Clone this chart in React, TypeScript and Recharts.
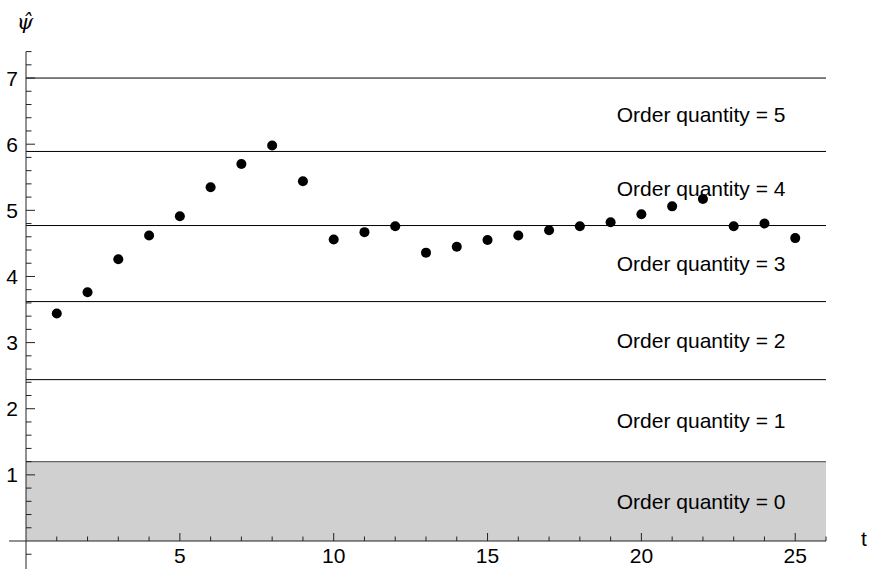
import {
	ComposedChart,
	Customized,
	ReferenceArea,
	ReferenceLine,
	Scatter,
	XAxis,
	YAxis,
} from "recharts";

// estimated psi-hat per period
const periods = [
	1, 2, 3, 4, 5, 6, 7, 8, 9, 10, 11, 12, 13, 14, 15, 16, 17, 18, 19, 20, 21,
	22, 23, 24, 25,
];
const psiHat = [
	3.44, 3.76, 4.26, 4.62, 4.91, 5.35, 5.7, 5.98, 5.44, 4.56, 4.67, 4.76, 4.36,
	4.45, 4.55, 4.62, 4.7, 4.76, 4.82, 4.94, 5.06, 5.17, 4.76, 4.8, 4.58,
];

// band edges for the order quantities
const thresholds = [0, 1.2, 2.44, 3.62, 4.77, 5.89, 7.0];
const orderQuantities = [0, 1, 2, 3, 4, 5];

const xMajor = [5, 10, 15, 20, 25];
const xTicks = Array.from({ length: 26 }, (_, i) => i + 1);
const yTicks = Array.from({ length: 37 }, (_, i) => +((i + 1) * 0.2).toFixed(1));

const FONT = "'Liberation Sans', Arial, sans-serif";

const chartData = periods.map((t, i) => ({ t, psi: psiHat[i] }));

const isInt = (v: number) => Math.abs(v - Math.round(v)) < 1e-6;

function XTick(props: any) {
	const { x, y, payload } = props;
	const v = payload.value;
	const major = xMajor.includes(v);
	return (
		<g>
			<line x1={x} x2={x} y1={y} y2={y - (major ? 8 : 4.5)} stroke="#222" />
			{major && (
				<text x={x} y={y + 22} textAnchor="middle" fontSize={21} fontFamily={FONT} fill="#000">
					{v}
				</text>
			)}
		</g>
	);
}

function YTick(props: any) {
	const { x, y, payload } = props;
	const v = payload.value;
	const major = isInt(v);
	return (
		<g>
			<line x1={x} x2={x + (major ? 9 : 5.5)} y1={y} y2={y} stroke="#222" />
			{major && (
				<text x={x - 8} y={y + 7.5} textAnchor="end" fontSize={21} fontFamily={FONT} fill="#000">
					{Math.round(v)}
				</text>
			)}
		</g>
	);
}

function AxisTitles() {
	return (
		<g>
			<text x={861} y={546} fontSize={21} fontFamily={FONT} fill="#000">
				t
			</text>
			<text x={25} y={29} textAnchor="middle" fontSize={21} fontStyle="italic" fontFamily="'DejaVu Serif', serif" fill="#000">
				ψ̂
			</text>
		</g>
	);
}

export default function App() {
	return (
		<div style={{ position: "absolute", left: 0, top: 0 }}>
			<ComposedChart
				width={869}
				height={569}
				data={chartData}
				margin={{ top: 51.6, right: 43, bottom: 27, left: 25 }}
			>
				<XAxis
					type="number"
					dataKey="t"
					domain={[0, 26]}
					ticks={xTicks}
					allowDataOverflow
					height={1}
					axisLine={false}
					tickLine={false}
					tickSize={0}
					tickMargin={0}
					tick={(p: any) => <XTick {...p} />}
					interval={0}
				/>
				<YAxis
					type="number"
					dataKey="psi"
					domain={[0, 7.4]}
					ticks={yTicks}
					allowDataOverflow
					width={1}
					axisLine={false}
					tickLine={false}
					tickSize={0}
					tickMargin={0}
					tick={(p: any) => <YTick {...p} />}
					interval={0}
				/>
				<ReferenceArea
					x1={0}
					x2={26}
					y1={thresholds[0]}
					y2={thresholds[1]}
					fill="#d0d0d0"
					fillOpacity={1}
					stroke="none"
				/>
				<ReferenceLine y={thresholds[1]} stroke="#666" strokeWidth={1.3} />
				{thresholds.slice(2).map((v) => (
					<ReferenceLine key={v} y={v} stroke="#000" strokeWidth={1} />
				))}
				{orderQuantities.map((q, i) => (
					<ReferenceArea
						key={"lab" + q}
						x1={19.2}
						x2={26}
						y1={thresholds[i]}
						y2={thresholds[i + 1]}
						fillOpacity={0}
						stroke="none"
						label={{
							value: `Order quantity = ${q}`,
							position: "insideLeft",
							offset: 0,
							fontSize: 21,
							fontFamily: FONT,
							fill: "#000",
						}}
					/>
				))}
				<ReferenceLine
					segment={[
						{ x: -0.55, y: 0 },
						{ x: 26, y: 0 },
					]}
					stroke="#222"
					ifOverflow="visible"
				/>
				<ReferenceLine
					segment={[
						{ x: 0, y: -0.43 },
						{ x: 0, y: 7.4 },
					]}
					stroke="#222"
					ifOverflow="visible"
				/>
				<ReferenceLine
					segment={[
						{ x: 0, y: -0.2 },
						{ x: 0.18, y: -0.2 },
					]}
					stroke="#222"
					ifOverflow="visible"
				/>
				<Scatter
					dataKey="psi"
					fill="#000"
					isAnimationActive={false}
					shape={(p: any) => <circle cx={p.cx} cy={p.cy} r={5} fill="#000" />}
				/>
				<Customized component={AxisTitles} />
			</ComposedChart>
		</div>
	);
}
